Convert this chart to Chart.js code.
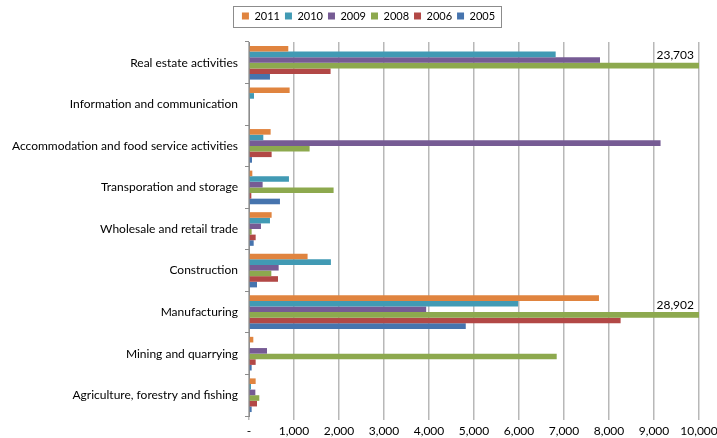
<!DOCTYPE html>
<html>
<head>
<meta charset="utf-8">
<script src="https://cdn.jsdelivr.net/npm/chart.js@4.4.1/dist/chart.umd.min.js"></script>
<style>
  html, body { margin: 0; padding: 0; background: #fff; }
  #wrap { width: 717px; height: 438px; }
</style>
</head>
<body>
<div id="wrap"><canvas id="c"></canvas></div>
<script>
// categories, top to bottom
const categories = [
  'Real estate activities',
  'Information and communication',
  'Accommodation and food service activities',
  'Transporation and storage',
  'Wholesale and retail trade',
  'Construction',
  'Manufacturing',
  'Mining and quarrying',
  'Agriculture, forestry and fishing'
];

const years = ['2011', '2010', '2009', '2008', '2006', '2005'];

// values
const v2011 = [873, 903, 481, 74, 503, 1302, 7777, 96, 148];
const v2010 = [6815, 111, 318, 888, 466, 1820, 5979, 0, 44];
const v2009 = [7800, 0, 9146, 303, 266, 659, 3937, 400, 141];
const v2008 = [23703, 0, 1347, 1880, 59, 496, 28902, 6838, 229];
const v2006 = [1813, 0, 503, 52, 148, 644, 8258, 148, 178];
const v2005 = [466, 0, 67, 688, 104, 178, 4817, 59, 59];

const xTicks = [0, 1000, 2000, 3000, 4000, 5000, 6000, 7000, 8000, 9000, 10000];

const seriesValues = [v2011, v2010, v2009, v2008, v2006, v2005];
const seriesColors = ['#E0843F', '#419AB4', '#765B94', '#8DA94E', '#B24846', '#4674AE'];

const FONT = 'Lato, "Open Sans", sans-serif';

// nudge the legend so it sits where Excel put it
const legendShift = {
  id: 'legendShift',
  afterLayout(chart) {
    const lg = chart.legend;
    if (!lg) return;
    lg.left += 10; lg.right += 10;
    lg.top -= 10.5; lg.bottom -= 10.5;
  }
};

// draw a box round the legend, like Excel does
const legendBox = {
  id: 'legendBox',
  afterDraw(chart) {
    const lg = chart.legend;
    if (!lg || !lg.legendHitBoxes.length) return;
    const hb = lg.legendHitBoxes;
    const left = Math.min(...hb.map(h => h.left)) - 9;
    const right = Math.max(...hb.map(h => h.left + h.width)) + 6;
    const top = Math.min(...hb.map(h => h.top)) - 5;
    const bottom = Math.max(...hb.map(h => h.top + h.height)) + 5;
    const ctx = chart.ctx;
    ctx.save();
    ctx.strokeStyle = '#8c8c8c';
    ctx.lineWidth = 1;
    ctx.strokeRect(Math.round(left) + 0.5, Math.round(top) + 0.5, Math.round(right - left), Math.round(bottom - top));
    ctx.restore();
  }
};

// labels for bars running off the axis
const overflowLabels = {
  id: 'overflowLabels',
  afterDatasetsDraw(chart) {
    const xScale = chart.scales.x;
    const ctx = chart.ctx;
    ctx.save();
    ctx.font = '12px ' + FONT;
    ctx.fillStyle = '#000';
    ctx.textAlign = 'right';
    ctx.textBaseline = 'middle';
    chart.data.datasets.forEach((ds, di) => {
      const meta = chart.getDatasetMeta(di);
      ds.data.forEach((val, i) => {
        if (val > xScale.max) {
          const bar = meta.data[i];
          ctx.fillText(val.toLocaleString('en-US'), chart.chartArea.right - 5, bar.y - 10);
        }
      });
    });
    ctx.restore();
  }
};

new Chart(document.getElementById('c'), {
  type: 'bar',
  data: {
    labels: categories,
    datasets: years.map((y, i) => ({
      label: y,
      data: seriesValues[i],
      backgroundColor: seriesColors[i],
      borderWidth: 0,
      categoryPercentage: 0.81,
      barPercentage: 1.0
    }))
  },
  options: {
    indexAxis: 'y',
    responsive: true,
    maintainAspectRatio: false,
    animation: false,
    layout: { padding: { left: 0, right: 0, top: 16, bottom: 0 } },
    plugins: {
      legend: {
        position: 'top',
        labels: {
          boxWidth: 7,
          boxHeight: 7,
          padding: 5,
          color: '#000',
          font: { family: FONT, size: 11 }
        }
      },
      tooltip: { enabled: false }
    },
    scales: {
      x: {
        min: 0,
        max: 10000,
        afterBuildTicks: (scale) => {
          scale.ticks = xTicks.map(v => ({ value: v }));
        },
        afterFit: (scale) => { scale.height = 22; scale.paddingRight = 18; },
        ticks: {
          color: '#000',
          font: { family: FONT, size: 12 },
          padding: 4,
          maxRotation: 0,
          callback: (v) => v === 0 ? '-' : v.toLocaleString('en-US')
        },
        grid: { color: '#b8b8b8', lineWidth: 1.5, tickLength: 4 },
        border: { display: false }
      },
      y: {
        afterFit: (scale) => { scale.width = 249; },
        ticks: {
          color: '#000',
          font: { family: FONT, size: 12 },
          padding: 7
        },
        grid: { drawOnChartArea: false, offset: true, tickLength: 4, color: '#8c8c8c' },
        border: { display: true, color: '#8c8c8c' }
      }
    }
  },
  plugins: [legendShift, legendBox, overflowLabels]
});
</script>
</body>
</html>
